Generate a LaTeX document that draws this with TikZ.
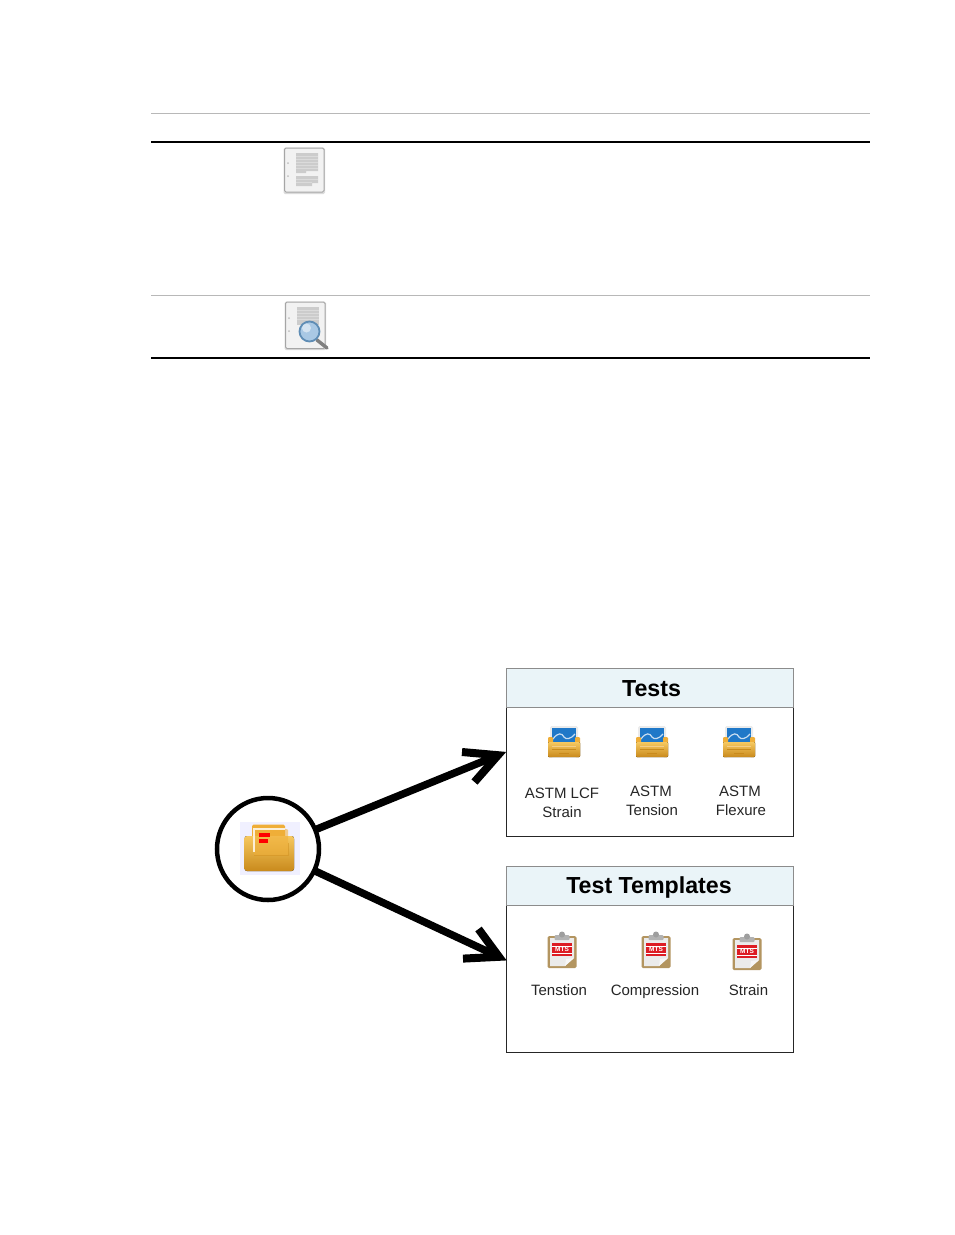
\documentclass[tikz,border=0pt]{standalone}
\usepackage{fontspec}
\setmainfont{Liberation Sans}
\usetikzlibrary{calc}
\definecolor{hdr}{HTML}{EAF4F8}
\definecolor{rulegray}{HTML}{B8B8B8}
\definecolor{fold}{HTML}{EFAE38}
\definecolor{folddark}{HTML}{C98A1C}
\definecolor{foldlight}{HTML}{F6C860}
\definecolor{mtsred}{HTML}{DD1C24}
\definecolor{clipbrown}{HTML}{B39560}
\definecolor{scr}{HTML}{1F78C8}
\definecolor{lens}{HTML}{A9C8E4}
\definecolor{lensring}{HTML}{5F8DB5}
\tikzset{
  x=1pt,y=-1pt,
  lbl/.style={font=\fontsize{15}{15}\selectfont,text=black!85,inner sep=0pt,anchor=base},
  ttl/.style={font=\fontsize{23.2}{23.2}\selectfont\bfseries,inner sep=0pt,anchor=base},
  hdrbox/.style={draw=black!45,fill=hdr,line width=1pt,inner sep=0pt,anchor=north west,minimum width=287pt,minimum height=38.5pt},
  bodybox/.style={draw=black!85,fill=white,line width=1pt,inner sep=0pt,anchor=north west,minimum width=287pt},
  shaft/.style={line width=7.5pt},
  barbs/.style={line width=8pt,line join=miter,miter limit=10},
  thickrule/.style={line width=1.5pt,black},
  thinrule/.style={line width=1pt,rulegray},
  docstripe/.style={black!14,line width=.8pt},
  pics/drawer/.style={code={
    \fill[black!8,rounded corners=1.5pt] (-14,-17) rectangle (14,0);
    \fill[scr] (-12,-15) rectangle (12,0);
    \draw[white!75!scr,line width=1.2pt] (-11,-4) .. controls (-6,-11) and (-2,-10) .. (0,-6) .. controls (2,-3) and (7,-4) .. (11,-9);
    \fill[fold,rounded corners=1pt] (-16,-6) rectangle (-11,14);
    \fill[fold,rounded corners=1pt] (11,-6) rectangle (16,14);
    \fill[top color=foldlight,bottom color=folddark,rounded corners=1pt] (-16,-1) rectangle (16,14);
    \draw[white!40!fold,line width=.7pt] (-12,3) -- (12,3);
    \draw[folddark,line width=.5pt] (-12,6.5) -- (12,6.5) (-5,10) -- (5,10);
  }},
  pics/clipboard/.style={code={
    \fill[clipbrown,rounded corners=1.5pt] (-14.5,-14) rectangle (14.5,18);
    \fill[black!8] (-12,-12) -- (12,-12) -- (12,8) -- (3,16) -- (-12,16) -- cycle;
    \fill[black!3] (12,8) -- (3,16) -- (4,9) -- cycle;
    \fill[mtsred] (-10,-7) rectangle (10,6);
    \draw[white,line width=.5pt] (-10,-4) -- (10,-4) (-10,3) -- (10,3);
    \node[inner sep=0pt,font=\fontsize{6.5}{6.5}\selectfont\bfseries,text=white] at (0,-.5) {MTS};
    \fill[black!30,rounded corners=1pt] (-7.5,-15) rectangle (7.5,-10);
    \fill[black!38] (0,-15.5) circle (3);
  }}
}
\begin{document}
\begin{tikzpicture}
\useasboundingbox (0,0) rectangle (954,1235);
\fill[white] (0,0) rectangle (954,1235);
% table rules
\draw[thinrule] (151,113) -- (870,113);
\draw[thickrule] (151,142) -- (870,142);
\draw[thinrule] (151,295.5) -- (870,295.5);
\draw[thickrule] (151,358) -- (870,358);
% document icon
\fill[black!14,rounded corners=1.5pt] (283.5,147.5) rectangle (325,194);
\draw[black!35,fill=black!5,line width=1pt,rounded corners=1.5pt] (284.5,148) rectangle (324,192);
\fill[black!20] (296,153) -- (318,153) -- (318,171) -- (306,171) -- (306,173) -- (296,173) -- cycle;
\fill[black!20] (296,176) -- (318,176) -- (318,183) -- (312,183) -- (312,186) -- (296,186) -- cycle;
\draw[docstripe] (296,156) -- (318,156) (296,159) -- (318,159) (296,162) -- (318,162) (296,165) -- (318,165) (296,168) -- (318,168) (296,179) -- (318,179) (296,182) -- (312,182);
\fill[black!25] (288,163) circle (1) (288,176) circle (1);
% document + magnifier icon
\fill[black!14,rounded corners=1.5pt] (284.5,301.5) rectangle (326,350);
\draw[black!35,fill=black!5,line width=1pt,rounded corners=1.5pt] (285.5,302) rectangle (325,348.5);
\fill[black!20] (297,307) rectangle (319,325);
\draw[docstripe] (297,310) -- (319,310) (297,313) -- (319,313) (297,316) -- (319,316) (297,319) -- (319,319);
\fill[black!25] (289,318) circle (1) (289,331) circle (1);
\draw[black!50,line width=3.5pt,line cap=round] (317,340) -- (327,348);
\draw[lensring,fill=lens,line width=1.8pt] (309.5,331.5) circle (10);
\fill[white,opacity=.5] (306.5,328) circle (4.5);
% boxes
\node[circle,minimum size=102pt,inner sep=0pt] (ring) at (268,849) {};
\node[bodybox,minimum height=130pt] (testsbody) at (506,706) {};
\node[hdrbox] (testshdr) at (506,668) {};
\node[ttl] (teststitle) at (651.5,696) {Tests};
\node[bodybox,minimum height=148pt] (tplbody) at (506,904) {};
\node[hdrbox] (tplhdr) at (506,866) {};
\node[ttl] (tpltitle) at (649,893.5) {Test Templates};
% connectors with hand-shaped barbs
\coordinate (testsin) at (498,755.2);
\coordinate (testsbarbA) at (462,752);
\coordinate (testsbarbB) at (474.5,782);
\coordinate (tplin) at (499,956.8);
\coordinate (tplbarbA) at (463,958.6);
\coordinate (tplbarbB) at (478.5,929);
\draw[shaft] (ring) -- (testsin);
\draw[shaft] (ring) -- (tplin);
\draw[barbs] (testsbarbA) -- (testsin) -- (testsbarbB);
\draw[barbs] (tplbarbA) -- (tplin) -- (tplbarbB);
\fill (testsin) -- ($(testsin)!.5!(testsbarbA)$) -- ($(testsin)!.5!(testsbarbB)$) -- cycle;
\fill (tplin) -- ($(tplin)!.5!(tplbarbA)$) -- ($(tplin)!.5!(tplbarbB)$) -- cycle;
% ring and folder
\node[circle,draw=black,fill=white,line width=4.5pt,minimum size=102pt,inner sep=0pt] (ring2) at (268,849) {};
\fill[blue!6!white] (240,822) rectangle (300,875);
\fill[fold,rounded corners=1.5pt] (252,824.5) rectangle (285,840);
\fill[top color=foldlight,bottom color=folddark,rounded corners=2.5pt] (244.5,836) rectangle (294,871);
\fill[fold,opacity=.55,rounded corners=1pt] (254,829) rectangle (288,855);
\draw[white!80!fold,line width=1.2pt] (254,852) -- (254,829) -- (285,829);
\draw[folddark!70!fold,line width=.6pt,opacity=.6] (254,855) -- (288,855) -- (288,843);
\fill[red] (259,832.5) rectangle (270,836.5);
\fill[red] (259,839) rectangle (268,843);
% Tests content
\pic at (564,743) {drawer};
\pic at (652,743) {drawer};
\pic at (739,743) {drawer};
\node[lbl] (t1a) at (562,798) {ASTM LCF};
\node[lbl] (t1b) at (562,817) {Strain};
\node[lbl] (t2a) at (651,796) {ASTM};
\node[lbl] (t2b) at (652,815) {Tension};
\node[lbl] (t3a) at (740,796) {ASTM};
\node[lbl] (t3b) at (741,815) {Flexure};
% Templates content
\pic at (562,950) {clipboard};
\pic at (656,950) {clipboard};
\pic at (747,952) {clipboard};
\node[lbl] (p1) at (559,995) {Tenstion};
\node[lbl] (p2) at (655,995) {Compression};
\node[lbl] (p3) at (748.5,995) {Strain};
\end{tikzpicture}
\end{document}
